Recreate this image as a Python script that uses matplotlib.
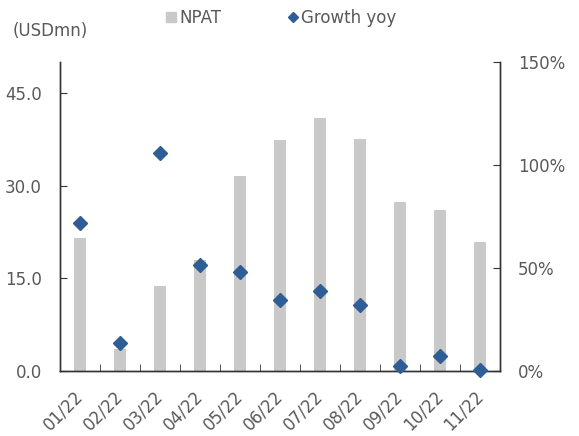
import numpy as np
import matplotlib.pyplot as plt
from matplotlib.lines import Line2D
from matplotlib.patches import Patch

# NPAT (USDmn) and growth yoy (%) by month
months = ['01/22', '02/22', '03/22', '04/22', '05/22', '06/22',
          '07/22', '08/22', '09/22', '10/22', '11/22']
npat = [21.5, 3.5, 13.7, 17.9, 31.5, 37.4, 41.0, 37.6, 27.4, 26.0, 20.8]
growth = [72, 13.6, 106, 51.5, 48, 34.5, 39, 32, 2.4, 7.3, 0.5]

bar_col = '#C9C9C9'
dot_col = '#2F5D95'
txt_col = '#595959'

plt.rcParams['font.family'] = ['DejaVu Sans']
plt.rcParams['font.size'] = 12

fig = plt.figure(figsize=(5.79, 4.36), dpi=100)
ax = fig.add_axes([0.1036, 0.149, 0.7601, 0.709])
ax2 = ax.twinx()

x = np.arange(len(months))
ax.bar(x, npat, width=0.31, color=bar_col, zorder=1)
ax2.plot(x, growth, linestyle='none', marker='D', markersize=7.5,
         color=dot_col, clip_on=False, zorder=3)

ax.set_xlim(-0.5, len(months) - 0.5)
ax.set_ylim(0, 50)
ax2.set_ylim(0, 150)
ax.set_yticks([0, 15, 30, 45])
ax.set_yticklabels(['0.0', '15.0', '30.0', '45.0'])
ax2.set_yticks([0, 50, 100, 150])
ax2.set_yticklabels(['0%', '50%', '100%', '150%'])

ax.set_xticks(x)
ax.set_xticklabels(months, rotation=45, ha='right', va='center', rotation_mode='anchor')
ax.set_xticks(np.arange(0.5, len(months) - 1, 1), minor=True)
ax.tick_params(axis='x', which='major', length=0, pad=16, colors=txt_col)
ax.tick_params(axis='x', which='minor', length=5, direction='in', color='#333333')
ax.tick_params(axis='y', direction='in', length=5, pad=13, labelcolor=txt_col, color='#333333')
ax2.tick_params(axis='y', direction='in', length=5, pad=13, labelcolor=txt_col, color='#333333')

for a in (ax, ax2):
    a.spines['top'].set_visible(False)
    for s in ('left', 'right', 'bottom'):
        a.spines[s].set_color('#333333')
        a.spines[s].set_linewidth(1.0)

fig.text(13 / 579, 1 - 31 / 436, '(USDmn)', color=txt_col, va='center', ha='left')

handles = [Patch(color=bar_col),
           Line2D([], [], linestyle='none', marker='D', markersize=5, color=dot_col)]
fig.legend(handles, ['NPAT', 'Growth yoy'], loc='center', ncol=2,
           bbox_to_anchor=(281 / 579, 1 - 18 / 436), frameon=False,
           handlelength=0.6, handleheight=0.6, handletextpad=0.2,
           columnspacing=4.0, labelcolor=txt_col, borderpad=0)

fig.savefig('out.png', dpi=100)
